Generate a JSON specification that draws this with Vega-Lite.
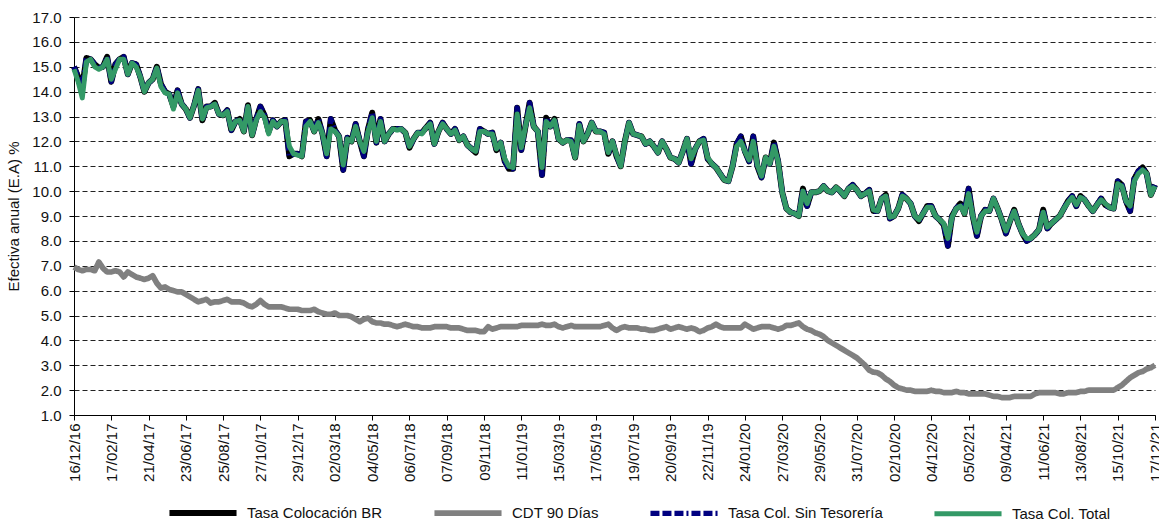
{
  "$schema": "https://vega.github.io/schema/vega-lite/v6.json",
  "autosize": "none",
  "width": 1100,
  "height": 398,
  "padding": {"left": 74, "top": 17, "right": 0, "bottom": 108},
  "background": "white",
  "config": {"font": "Liberation Sans", "view": {"stroke": null}},
  "title": {"text": "Tasas de Interés Ofrecidas Semanales", "anchor": "middle", "fontSize": 16, "fontWeight": "normal", "color": "#555", "offset": 12, "dx": -70},
  "data": {"values": [
{"f":"16/12/16","br":15.0,"cdt":6.95,"st":15.0,"tot":14.9},
{"f":"23/12/16","br":14.6,"cdt":6.85,"st":14.6,"tot":14.4},
{"f":"30/12/16","br":14.2,"cdt":6.8,"st":14.2,"tot":13.75},
{"f":"06/01/17","br":15.35,"cdt":6.85,"st":15.35,"tot":15.2},
{"f":"13/01/17","br":15.3,"cdt":6.85,"st":15.3,"tot":15.3},
{"f":"20/01/17","br":15.1,"cdt":6.8,"st":15.1,"tot":15.0},
{"f":"27/01/17","br":14.95,"cdt":7.15,"st":14.95,"tot":14.9},
{"f":"03/02/17","br":15.0,"cdt":6.9,"st":15.0,"tot":15.0},
{"f":"10/02/17","br":15.4,"cdt":6.75,"st":15.4,"tot":15.3},
{"f":"17/02/17","br":14.4,"cdt":6.75,"st":14.4,"tot":14.5},
{"f":"24/02/17","br":15.1,"cdt":6.8,"st":15.1,"tot":14.9},
{"f":"03/03/17","br":15.3,"cdt":6.75,"st":15.3,"tot":15.3},
{"f":"10/03/17","br":15.4,"cdt":6.55,"st":15.4,"tot":15.3},
{"f":"17/03/17","br":14.7,"cdt":6.75,"st":14.7,"tot":14.7},
{"f":"24/03/17","br":15.15,"cdt":6.65,"st":15.15,"tot":15.15},
{"f":"31/03/17","br":15.1,"cdt":6.55,"st":15.1,"tot":15.0},
{"f":"07/04/17","br":14.6,"cdt":6.5,"st":14.6,"tot":14.6},
{"f":"14/04/17","br":14.0,"cdt":6.45,"st":14.0,"tot":14.0},
{"f":"21/04/17","br":14.35,"cdt":6.5,"st":14.35,"tot":14.35},
{"f":"28/04/17","br":14.5,"cdt":6.6,"st":14.5,"tot":14.5},
{"f":"05/05/17","br":15.0,"cdt":6.3,"st":15.0,"tot":14.95},
{"f":"12/05/17","br":14.3,"cdt":6.1,"st":14.3,"tot":14.2},
{"f":"19/05/17","br":14.0,"cdt":6.15,"st":14.0,"tot":13.95},
{"f":"26/05/17","br":13.9,"cdt":6.05,"st":13.9,"tot":13.9},
{"f":"02/06/17","br":13.4,"cdt":6.0,"st":13.4,"tot":13.3},
{"f":"09/06/17","br":14.05,"cdt":5.95,"st":14.05,"tot":13.95},
{"f":"16/06/17","br":13.5,"cdt":5.95,"st":13.5,"tot":13.5},
{"f":"23/06/17","br":13.3,"cdt":5.85,"st":13.3,"tot":13.3},
{"f":"30/06/17","br":12.95,"cdt":5.75,"st":12.95,"tot":12.95},
{"f":"07/07/17","br":13.45,"cdt":5.65,"st":13.45,"tot":13.45},
{"f":"14/07/17","br":14.1,"cdt":5.55,"st":14.1,"tot":14.05},
{"f":"21/07/17","br":12.85,"cdt":5.6,"st":12.85,"tot":12.9},
{"f":"28/07/17","br":13.4,"cdt":5.65,"st":13.4,"tot":13.35},
{"f":"04/08/17","br":13.4,"cdt":5.5,"st":13.4,"tot":13.4},
{"f":"11/08/17","br":13.55,"cdt":5.55,"st":13.55,"tot":13.5},
{"f":"18/08/17","br":13.1,"cdt":5.55,"st":13.1,"tot":13.1},
{"f":"25/08/17","br":13.05,"cdt":5.6,"st":13.05,"tot":13.05},
{"f":"01/09/17","br":13.25,"cdt":5.65,"st":13.25,"tot":13.2},
{"f":"08/09/17","br":12.45,"cdt":5.55,"st":12.45,"tot":12.5},
{"f":"15/09/17","br":12.8,"cdt":5.55,"st":12.8,"tot":12.8},
{"f":"22/09/17","br":12.9,"cdt":5.55,"st":12.9,"tot":12.85},
{"f":"29/09/17","br":12.4,"cdt":5.5,"st":12.4,"tot":12.4},
{"f":"06/10/17","br":13.45,"cdt":5.4,"st":13.45,"tot":13.4},
{"f":"13/10/17","br":12.25,"cdt":5.35,"st":12.25,"tot":12.25},
{"f":"20/10/17","br":12.9,"cdt":5.45,"st":12.9,"tot":12.85},
{"f":"27/10/17","br":13.4,"cdt":5.6,"st":13.4,"tot":13.2},
{"f":"03/11/17","br":13.05,"cdt":5.45,"st":13.05,"tot":12.95},
{"f":"10/11/17","br":12.4,"cdt":5.35,"st":12.4,"tot":12.3},
{"f":"17/11/17","br":12.85,"cdt":5.35,"st":12.85,"tot":12.8},
{"f":"24/11/17","br":12.6,"cdt":5.35,"st":12.6,"tot":12.6},
{"f":"01/12/17","br":12.8,"cdt":5.35,"st":12.8,"tot":12.8},
{"f":"08/12/17","br":12.85,"cdt":5.3,"st":12.85,"tot":12.8},
{"f":"15/12/17","br":11.4,"cdt":5.25,"st":11.4,"tot":11.8},
{"f":"22/12/17","br":11.5,"cdt":5.25,"st":11.5,"tot":11.5},
{"f":"29/12/17","br":11.5,"cdt":5.25,"st":11.5,"tot":11.45},
{"f":"05/01/18","br":11.4,"cdt":5.2,"st":11.4,"tot":11.4},
{"f":"12/01/18","br":12.8,"cdt":5.2,"st":12.8,"tot":12.6},
{"f":"19/01/18","br":12.85,"cdt":5.2,"st":12.85,"tot":12.8},
{"f":"26/01/18","br":12.4,"cdt":5.25,"st":12.4,"tot":12.4},
{"f":"02/02/18","br":12.9,"cdt":5.15,"st":12.9,"tot":12.75},
{"f":"09/02/18","br":12.3,"cdt":5.1,"st":12.3,"tot":12.3},
{"f":"16/02/18","br":11.4,"cdt":5.05,"st":11.4,"tot":11.5},
{"f":"23/02/18","br":12.9,"cdt":5.05,"st":12.9,"tot":12.5},
{"f":"02/03/18","br":12.45,"cdt":5.1,"st":12.45,"tot":12.4},
{"f":"09/03/18","br":12.2,"cdt":5.0,"st":12.2,"tot":12.2},
{"f":"16/03/18","br":10.85,"cdt":5.0,"st":10.85,"tot":11.05},
{"f":"23/03/18","br":12.15,"cdt":5.0,"st":12.15,"tot":12.1},
{"f":"30/03/18","br":12.0,"cdt":4.95,"st":12.0,"tot":12.0},
{"f":"06/04/18","br":12.7,"cdt":4.85,"st":12.7,"tot":12.6},
{"f":"13/04/18","br":12.0,"cdt":4.75,"st":12.0,"tot":12.0},
{"f":"20/04/18","br":11.4,"cdt":4.85,"st":11.4,"tot":11.6},
{"f":"27/04/18","br":12.5,"cdt":4.9,"st":12.5,"tot":12.4},
{"f":"04/05/18","br":13.15,"cdt":4.75,"st":13.15,"tot":12.95},
{"f":"11/05/18","br":11.95,"cdt":4.7,"st":11.95,"tot":12.0},
{"f":"18/05/18","br":12.9,"cdt":4.7,"st":12.9,"tot":12.8},
{"f":"25/05/18","br":12.0,"cdt":4.65,"st":12.0,"tot":12.0},
{"f":"01/06/18","br":12.3,"cdt":4.65,"st":12.3,"tot":12.3},
{"f":"08/06/18","br":12.5,"cdt":4.6,"st":12.5,"tot":12.5},
{"f":"15/06/18","br":12.5,"cdt":4.55,"st":12.5,"tot":12.45},
{"f":"22/06/18","br":12.5,"cdt":4.6,"st":12.5,"tot":12.5},
{"f":"29/06/18","br":12.35,"cdt":4.65,"st":12.35,"tot":12.35},
{"f":"06/07/18","br":11.75,"cdt":4.6,"st":11.75,"tot":11.8},
{"f":"13/07/18","br":12.1,"cdt":4.55,"st":12.1,"tot":12.1},
{"f":"20/07/18","br":12.35,"cdt":4.55,"st":12.35,"tot":12.35},
{"f":"27/07/18","br":12.35,"cdt":4.5,"st":12.35,"tot":12.3},
{"f":"03/08/18","br":12.55,"cdt":4.5,"st":12.55,"tot":12.55},
{"f":"10/08/18","br":12.75,"cdt":4.5,"st":12.75,"tot":12.7},
{"f":"17/08/18","br":11.9,"cdt":4.55,"st":11.9,"tot":11.9},
{"f":"24/08/18","br":12.4,"cdt":4.55,"st":12.4,"tot":12.4},
{"f":"31/08/18","br":12.75,"cdt":4.55,"st":12.75,"tot":12.7},
{"f":"07/09/18","br":12.5,"cdt":4.55,"st":12.5,"tot":12.5},
{"f":"14/09/18","br":12.3,"cdt":4.5,"st":12.3,"tot":12.3},
{"f":"21/09/18","br":12.5,"cdt":4.5,"st":12.5,"tot":12.45},
{"f":"28/09/18","br":12.05,"cdt":4.5,"st":12.05,"tot":12.05},
{"f":"05/10/18","br":12.2,"cdt":4.45,"st":12.2,"tot":12.2},
{"f":"12/10/18","br":11.85,"cdt":4.4,"st":11.85,"tot":11.85},
{"f":"19/10/18","br":11.7,"cdt":4.4,"st":11.7,"tot":11.7},
{"f":"26/10/18","br":11.55,"cdt":4.4,"st":11.55,"tot":11.6},
{"f":"02/11/18","br":12.5,"cdt":4.35,"st":12.5,"tot":12.4},
{"f":"09/11/18","br":12.4,"cdt":4.35,"st":12.4,"tot":12.4},
{"f":"16/11/18","br":12.3,"cdt":4.55,"st":12.3,"tot":12.3},
{"f":"23/11/18","br":12.35,"cdt":4.45,"st":12.35,"tot":12.3},
{"f":"30/11/18","br":11.65,"cdt":4.5,"st":11.65,"tot":11.7},
{"f":"07/12/18","br":11.95,"cdt":4.55,"st":11.95,"tot":11.95},
{"f":"14/12/18","br":11.2,"cdt":4.55,"st":11.2,"tot":11.3},
{"f":"21/12/18","br":10.9,"cdt":4.55,"st":10.9,"tot":11.0},
{"f":"28/12/18","br":10.9,"cdt":4.55,"st":10.9,"tot":10.95},
{"f":"04/01/19","br":13.35,"cdt":4.55,"st":13.35,"tot":13.1},
{"f":"11/01/19","br":11.65,"cdt":4.6,"st":11.65,"tot":11.75},
{"f":"18/01/19","br":12.6,"cdt":4.6,"st":12.6,"tot":12.6},
{"f":"25/01/19","br":13.55,"cdt":4.6,"st":13.55,"tot":13.35},
{"f":"01/02/19","br":12.6,"cdt":4.6,"st":12.6,"tot":12.6},
{"f":"08/02/19","br":12.4,"cdt":4.6,"st":12.4,"tot":12.4},
{"f":"15/02/19","br":10.65,"cdt":4.65,"st":10.65,"tot":10.95},
{"f":"22/02/19","br":12.95,"cdt":4.6,"st":12.95,"tot":12.8},
{"f":"01/03/19","br":12.6,"cdt":4.6,"st":12.6,"tot":12.6},
{"f":"08/03/19","br":12.9,"cdt":4.65,"st":12.9,"tot":12.85},
{"f":"15/03/19","br":12.1,"cdt":4.55,"st":12.1,"tot":12.1},
{"f":"22/03/19","br":11.95,"cdt":4.5,"st":11.95,"tot":11.95},
{"f":"29/03/19","br":12.05,"cdt":4.55,"st":12.05,"tot":12.05},
{"f":"05/04/19","br":12.05,"cdt":4.6,"st":12.05,"tot":12.0},
{"f":"12/04/19","br":11.35,"cdt":4.55,"st":11.35,"tot":11.35},
{"f":"19/04/19","br":12.7,"cdt":4.55,"st":12.7,"tot":12.65},
{"f":"26/04/19","br":12.0,"cdt":4.55,"st":12.0,"tot":12.0},
{"f":"03/05/19","br":12.3,"cdt":4.55,"st":12.3,"tot":12.3},
{"f":"10/05/19","br":12.75,"cdt":4.55,"st":12.75,"tot":12.75},
{"f":"17/05/19","br":12.4,"cdt":4.55,"st":12.4,"tot":12.4},
{"f":"24/05/19","br":12.4,"cdt":4.55,"st":12.4,"tot":12.4},
{"f":"31/05/19","br":12.35,"cdt":4.6,"st":12.35,"tot":12.3},
{"f":"07/06/19","br":11.5,"cdt":4.65,"st":11.5,"tot":11.55},
{"f":"14/06/19","br":12.0,"cdt":4.5,"st":12.0,"tot":12.0},
{"f":"21/06/19","br":11.4,"cdt":4.4,"st":11.4,"tot":11.45},
{"f":"28/06/19","br":11.0,"cdt":4.5,"st":11.0,"tot":11.0},
{"f":"05/07/19","br":12.0,"cdt":4.55,"st":12.0,"tot":12.0},
{"f":"12/07/19","br":12.75,"cdt":4.5,"st":12.75,"tot":12.75},
{"f":"19/07/19","br":12.3,"cdt":4.5,"st":12.3,"tot":12.3},
{"f":"26/07/19","br":12.25,"cdt":4.5,"st":12.25,"tot":12.25},
{"f":"02/08/19","br":12.2,"cdt":4.45,"st":12.2,"tot":12.2},
{"f":"09/08/19","br":11.9,"cdt":4.45,"st":11.9,"tot":11.9},
{"f":"16/08/19","br":12.0,"cdt":4.4,"st":12.0,"tot":12.0},
{"f":"23/08/19","br":11.8,"cdt":4.4,"st":11.8,"tot":11.8},
{"f":"30/08/19","br":11.55,"cdt":4.45,"st":11.55,"tot":11.55},
{"f":"06/09/19","br":12.0,"cdt":4.5,"st":12.0,"tot":12.0},
{"f":"13/09/19","br":11.7,"cdt":4.55,"st":11.7,"tot":11.7},
{"f":"20/09/19","br":11.35,"cdt":4.45,"st":11.35,"tot":11.35},
{"f":"27/09/19","br":11.3,"cdt":4.5,"st":11.3,"tot":11.3},
{"f":"04/10/19","br":11.15,"cdt":4.55,"st":11.15,"tot":11.15},
{"f":"11/10/19","br":11.6,"cdt":4.5,"st":11.6,"tot":11.6},
{"f":"18/10/19","br":12.1,"cdt":4.45,"st":12.1,"tot":12.1},
{"f":"25/10/19","br":11.1,"cdt":4.5,"st":11.1,"tot":11.3},
{"f":"01/11/19","br":11.7,"cdt":4.45,"st":11.7,"tot":11.7},
{"f":"08/11/19","br":12.0,"cdt":4.35,"st":12.0,"tot":12.0},
{"f":"15/11/19","br":12.1,"cdt":4.4,"st":12.1,"tot":12.05},
{"f":"22/11/19","br":11.3,"cdt":4.5,"st":11.3,"tot":11.35},
{"f":"29/11/19","br":11.1,"cdt":4.55,"st":11.1,"tot":11.1},
{"f":"06/12/19","br":10.95,"cdt":4.65,"st":10.95,"tot":10.95},
{"f":"13/12/19","br":10.7,"cdt":4.55,"st":10.7,"tot":10.7},
{"f":"20/12/19","br":10.45,"cdt":4.5,"st":10.45,"tot":10.45},
{"f":"27/12/19","br":10.4,"cdt":4.5,"st":10.4,"tot":10.4},
{"f":"03/01/20","br":11.0,"cdt":4.5,"st":11.0,"tot":11.0},
{"f":"10/01/20","br":11.9,"cdt":4.5,"st":11.9,"tot":11.8},
{"f":"17/01/20","br":12.2,"cdt":4.5,"st":12.2,"tot":12.0},
{"f":"24/01/20","br":11.6,"cdt":4.65,"st":11.6,"tot":11.6},
{"f":"31/01/20","br":11.2,"cdt":4.55,"st":11.2,"tot":11.25},
{"f":"07/02/20","br":12.2,"cdt":4.45,"st":12.2,"tot":12.0},
{"f":"14/02/20","br":11.0,"cdt":4.5,"st":11.0,"tot":11.05},
{"f":"21/02/20","br":10.55,"cdt":4.55,"st":10.55,"tot":10.6},
{"f":"28/02/20","br":11.35,"cdt":4.55,"st":11.35,"tot":11.35},
{"f":"06/03/20","br":11.1,"cdt":4.55,"st":11.1,"tot":11.1},
{"f":"13/03/20","br":11.95,"cdt":4.5,"st":11.95,"tot":11.8},
{"f":"20/03/20","br":11.2,"cdt":4.45,"st":11.2,"tot":11.2},
{"f":"27/03/20","br":9.95,"cdt":4.5,"st":9.95,"tot":9.95},
{"f":"03/04/20","br":9.3,"cdt":4.6,"st":9.3,"tot":9.3},
{"f":"10/04/20","br":9.15,"cdt":4.6,"st":9.15,"tot":9.15},
{"f":"17/04/20","br":9.1,"cdt":4.65,"st":9.1,"tot":9.1},
{"f":"24/04/20","br":9.0,"cdt":4.7,"st":9.0,"tot":9.0},
{"f":"01/05/20","br":10.1,"cdt":4.55,"st":10.1,"tot":10.0},
{"f":"08/05/20","br":9.4,"cdt":4.45,"st":9.4,"tot":9.5},
{"f":"15/05/20","br":9.95,"cdt":4.4,"st":9.95,"tot":9.95},
{"f":"22/05/20","br":9.95,"cdt":4.3,"st":9.95,"tot":9.95},
{"f":"29/05/20","br":10.0,"cdt":4.25,"st":10.0,"tot":10.0},
{"f":"05/06/20","br":10.2,"cdt":4.15,"st":10.2,"tot":10.2},
{"f":"12/06/20","br":10.0,"cdt":4.0,"st":10.0,"tot":10.0},
{"f":"19/06/20","br":9.95,"cdt":3.9,"st":9.95,"tot":9.95},
{"f":"26/06/20","br":10.15,"cdt":3.8,"st":10.15,"tot":10.15},
{"f":"03/07/20","br":10.0,"cdt":3.7,"st":10.0,"tot":10.0},
{"f":"10/07/20","br":9.8,"cdt":3.6,"st":9.8,"tot":9.8},
{"f":"17/07/20","br":10.1,"cdt":3.5,"st":10.1,"tot":10.1},
{"f":"24/07/20","br":10.25,"cdt":3.4,"st":10.25,"tot":10.2},
{"f":"31/07/20","br":10.05,"cdt":3.3,"st":10.05,"tot":10.05},
{"f":"07/08/20","br":9.8,"cdt":3.15,"st":9.8,"tot":9.8},
{"f":"14/08/20","br":9.9,"cdt":3.0,"st":9.9,"tot":9.9},
{"f":"21/08/20","br":10.05,"cdt":2.8,"st":10.05,"tot":10.0},
{"f":"28/08/20","br":9.2,"cdt":2.72,"st":9.2,"tot":9.25},
{"f":"04/09/20","br":9.2,"cdt":2.7,"st":9.2,"tot":9.2},
{"f":"11/09/20","br":9.7,"cdt":2.6,"st":9.7,"tot":9.7},
{"f":"18/09/20","br":9.85,"cdt":2.45,"st":9.85,"tot":9.8},
{"f":"25/09/20","br":8.9,"cdt":2.35,"st":8.9,"tot":8.95},
{"f":"02/10/20","br":9.0,"cdt":2.2,"st":9.0,"tot":9.0},
{"f":"09/10/20","br":9.3,"cdt":2.1,"st":9.3,"tot":9.3},
{"f":"16/10/20","br":9.85,"cdt":2.05,"st":9.85,"tot":9.8},
{"f":"23/10/20","br":9.7,"cdt":2.0,"st":9.7,"tot":9.7},
{"f":"30/10/20","br":9.5,"cdt":2.0,"st":9.5,"tot":9.5},
{"f":"06/11/20","br":9.0,"cdt":1.95,"st":9.0,"tot":9.0},
{"f":"13/11/20","br":8.8,"cdt":1.95,"st":8.8,"tot":8.85},
{"f":"20/11/20","br":9.1,"cdt":1.95,"st":9.1,"tot":9.1},
{"f":"27/11/20","br":9.4,"cdt":1.95,"st":9.4,"tot":9.35},
{"f":"04/12/20","br":9.4,"cdt":2.0,"st":9.4,"tot":9.35},
{"f":"11/12/20","br":9.0,"cdt":1.95,"st":9.0,"tot":9.0},
{"f":"18/12/20","br":8.85,"cdt":1.95,"st":8.85,"tot":8.85},
{"f":"25/12/20","br":8.65,"cdt":1.9,"st":8.65,"tot":8.7},
{"f":"01/01/21","br":7.8,"cdt":1.9,"st":7.8,"tot":8.1},
{"f":"08/01/21","br":9.0,"cdt":1.9,"st":9.0,"tot":8.95},
{"f":"15/01/21","br":9.3,"cdt":1.95,"st":9.3,"tot":9.3},
{"f":"22/01/21","br":9.5,"cdt":1.9,"st":9.5,"tot":9.4},
{"f":"29/01/21","br":9.1,"cdt":1.9,"st":9.1,"tot":9.1},
{"f":"05/02/21","br":10.1,"cdt":1.85,"st":10.1,"tot":9.9},
{"f":"12/02/21","br":9.0,"cdt":1.85,"st":9.0,"tot":9.0},
{"f":"19/02/21","br":8.2,"cdt":1.85,"st":8.2,"tot":8.35},
{"f":"26/02/21","br":9.0,"cdt":1.85,"st":9.0,"tot":9.0},
{"f":"05/03/21","br":9.25,"cdt":1.85,"st":9.25,"tot":9.2},
{"f":"12/03/21","br":9.2,"cdt":1.8,"st":9.2,"tot":9.2},
{"f":"19/03/21","br":9.7,"cdt":1.75,"st":9.7,"tot":9.7},
{"f":"26/03/21","br":9.3,"cdt":1.75,"st":9.3,"tot":9.3},
{"f":"02/04/21","br":8.85,"cdt":1.7,"st":8.85,"tot":8.85},
{"f":"09/04/21","br":8.3,"cdt":1.7,"st":8.3,"tot":8.4},
{"f":"16/04/21","br":8.8,"cdt":1.7,"st":8.8,"tot":8.8},
{"f":"23/04/21","br":9.25,"cdt":1.75,"st":9.25,"tot":9.2},
{"f":"30/04/21","br":8.7,"cdt":1.75,"st":8.7,"tot":8.7},
{"f":"07/05/21","br":8.3,"cdt":1.75,"st":8.3,"tot":8.3},
{"f":"14/05/21","br":8.0,"cdt":1.75,"st":8.0,"tot":8.1},
{"f":"21/05/21","br":8.1,"cdt":1.75,"st":8.1,"tot":8.1},
{"f":"28/05/21","br":8.25,"cdt":1.85,"st":8.25,"tot":8.25},
{"f":"04/06/21","br":8.45,"cdt":1.9,"st":8.45,"tot":8.45},
{"f":"11/06/21","br":9.25,"cdt":1.9,"st":9.25,"tot":9.15},
{"f":"18/06/21","br":8.5,"cdt":1.9,"st":8.5,"tot":8.55},
{"f":"25/06/21","br":8.7,"cdt":1.9,"st":8.7,"tot":8.7},
{"f":"02/07/21","br":8.85,"cdt":1.9,"st":8.85,"tot":8.85},
{"f":"09/07/21","br":9.0,"cdt":1.85,"st":9.0,"tot":9.0},
{"f":"16/07/21","br":9.3,"cdt":1.85,"st":9.3,"tot":9.3},
{"f":"23/07/21","br":9.6,"cdt":1.9,"st":9.6,"tot":9.55},
{"f":"30/07/21","br":9.8,"cdt":1.9,"st":9.8,"tot":9.75},
{"f":"06/08/21","br":9.4,"cdt":1.9,"st":9.4,"tot":9.45},
{"f":"13/08/21","br":9.8,"cdt":1.95,"st":9.8,"tot":9.75},
{"f":"20/08/21","br":9.65,"cdt":1.95,"st":9.65,"tot":9.65},
{"f":"27/08/21","br":9.4,"cdt":2.0,"st":9.4,"tot":9.4},
{"f":"03/09/21","br":9.2,"cdt":2.0,"st":9.2,"tot":9.2},
{"f":"10/09/21","br":9.45,"cdt":2.0,"st":9.45,"tot":9.45},
{"f":"17/09/21","br":9.7,"cdt":2.0,"st":9.7,"tot":9.65},
{"f":"24/09/21","br":9.45,"cdt":2.0,"st":9.45,"tot":9.5},
{"f":"01/10/21","br":9.35,"cdt":2.0,"st":9.35,"tot":9.35},
{"f":"08/10/21","br":9.3,"cdt":2.0,"st":9.3,"tot":9.3},
{"f":"15/10/21","br":10.4,"cdt":2.1,"st":10.4,"tot":10.3},
{"f":"22/10/21","br":10.25,"cdt":2.2,"st":10.25,"tot":10.2},
{"f":"29/10/21","br":9.6,"cdt":2.35,"st":9.6,"tot":9.6},
{"f":"05/11/21","br":9.2,"cdt":2.5,"st":9.2,"tot":9.4},
{"f":"12/11/21","br":10.5,"cdt":2.6,"st":10.5,"tot":10.4},
{"f":"19/11/21","br":10.8,"cdt":2.7,"st":10.8,"tot":10.7},
{"f":"26/11/21","br":10.95,"cdt":2.75,"st":10.95,"tot":10.85},
{"f":"03/12/21","br":10.7,"cdt":2.85,"st":10.7,"tot":10.7},
{"f":"10/12/21","br":9.85,"cdt":2.9,"st":9.85,"tot":9.85},
{"f":"17/12/21","br":10.25,"cdt":3.0,"st":10.25,"tot":10.2}
  ]},
  "transform": [{"fold": ["br", "cdt", "st", "tot"], "as": ["serie", "valor"]}],
  "mark": {"type": "line", "strokeJoin": "round", "strokeCap": "butt"},
  "encoding": {
    "x": {
      "field": "f", "type": "ordinal", "sort": null,
      "scale": {"type": "point", "padding": 0, "range": [0, 1081]},
      "axis": {
        "title": null,
        "values": ["16/12/16","17/02/17","21/04/17","23/06/17","25/08/17","27/10/17","29/12/17","02/03/18","04/05/18","06/07/18","07/09/18","09/11/18","11/01/19","15/03/19","17/05/19","19/07/19","20/09/19","22/11/19","24/01/20","27/03/20","29/05/20","31/07/20","02/10/20","04/12/20","05/02/21","09/04/21","11/06/21","13/08/21","15/10/21","17/12/21"],
        "labelAngle": -90, "labelAlign": "right", "labelBaseline": "middle",
        "labelFontSize": 15, "labelColor": "#111", "labelPadding": 3,
        "tickColor": "#000", "tickSize": 5, "domainColor": "#000", "domainWidth": 1,
        "grid": false, "labelOverlap": false
      }
    },
    "y": {
      "field": "valor", "type": "quantitative",
      "scale": {"domain": [1, 17], "nice": false, "zero": false},
      "axis": {
        "title": "Efectiva anual (E.A) %", "titleFontSize": 15, "titleFontWeight": "normal", "titleColor": "#111", "titlePadding": 10,
        "values": [1,2,3,4,5,6,7,8,9,10,11,12,13,14,15,16,17],
        "format": ".1f", "labelFontSize": 15, "labelColor": "#111", "labelPadding": 8,
        "tickColor": "#000", "tickSize": 5, "domainColor": "#000",
        "grid": true, "gridColor": "#222", "gridDash": [5, 3], "gridWidth": 1
      }
    },
    "color": {
      "field": "serie", "type": "ordinal",
      "scale": {"domain": ["br", "cdt", "st", "tot"], "range": ["#000000", "#808080", "#000080", "#339966"]},
      "legend": {
        "title": null, "orient": "none", "legendX": 92, "legendY": 459, "direction": "horizontal", "columns": 4,
        "symbolType": "stroke", "symbolSize": 4500, "labelFontSize": 15, "labelColor": "#111", "columnPadding": 40, "labelOffset": 7,
        "labelExpr": "{'br': 'Tasa Colocación BR', 'cdt': 'CDT 90 Días', 'st': 'Tasa Col. Sin Tesorería', 'tot': 'Tasa Col. Total'}[datum.label]"
      }
    },
    "strokeDash": {
      "field": "serie", "type": "ordinal",
      "scale": {"domain": ["br", "cdt", "st", "tot"], "range": [[1, 0], [1, 0], [9, 3, 9, 3, 9, 3, 2, 3], [1, 0]]},
      "legend": null
    },
    "strokeWidth": {
      "field": "serie", "type": "ordinal",
      "scale": {"domain": ["br", "cdt", "st", "tot"], "range": [6, 5, 5, 3.5]},
      "legend": null
    }
  }
}
